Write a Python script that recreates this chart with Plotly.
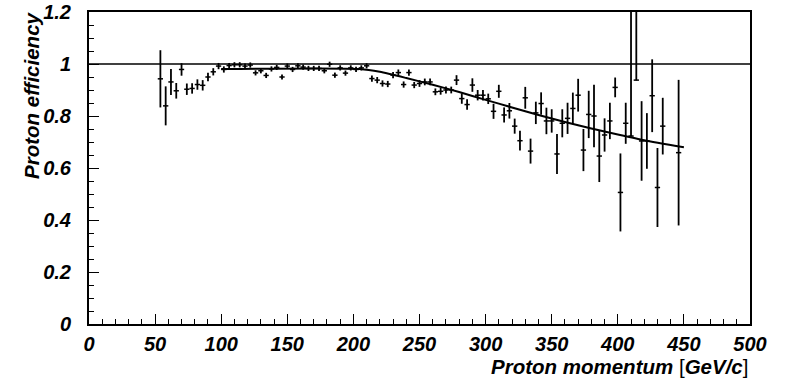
import plotly.graph_objects as go

# Data
momentum = [54, 58, 62, 66, 70, 74, 78, 82, 86, 90, 94, 98, 102, 106, 110, 114, 118, 122, 126, 130,
            134, 138, 142, 146, 150, 154, 158, 162, 166, 170, 174, 178, 182, 186, 190, 194, 198, 202, 206, 210,
            214, 218, 222, 226, 230, 234, 238, 242, 246, 250, 254, 258, 262, 266, 270, 274, 278, 282, 286, 290,
            294, 298, 302, 306, 310, 314, 318, 322, 326, 330, 334, 338, 342, 346, 350, 354, 358, 362, 366, 370,
            374, 378, 382, 386, 390, 394, 398, 402, 406, 410, 414, 418, 422, 426, 430, 434, 446]
efficiency = [0.943, 0.839, 0.931, 0.897, 0.979, 0.903, 0.906, 0.921, 0.918, 0.950, 0.970, 0.992, 0.979, 0.994, 0.997, 0.997, 0.992, 0.996, 0.966, 0.974,
              0.956, 0.981, 0.987, 0.950, 0.992, 0.979, 0.993, 0.988, 0.983, 0.983, 0.983, 0.974, 0.999, 0.957, 0.985, 0.965, 0.985, 0.979, 0.985, 0.993,
              0.944, 0.938, 0.925, 0.923, 0.957, 0.967, 0.921, 0.967, 0.919, 0.925, 0.931, 0.931, 0.893, 0.895, 0.900, 0.900, 0.938, 0.867, 0.844, 0.919,
              0.880, 0.880, 0.866, 0.818, 0.895, 0.804, 0.820, 0.761, 0.705, 0.870, 0.665, 0.812, 0.848, 0.781, 0.781, 0.654, 0.772, 0.791, 0.829, 0.880,
              0.669, 0.806, 0.800, 0.646, 0.727, 0.781, 0.910, 0.506, 0.772, 0.723, 0.938, 0.704, 0.704, 0.878, 0.525, 0.761, 0.659]
err_up = [0.110, 0.075, 0.050, 0.030, 0.024, 0.022, 0.020, 0.020, 0.020, 0.016, 0.014, 0.012, 0.012, 0.010, 0.010, 0.010, 0.010, 0.010, 0.010, 0.010,
          0.010, 0.010, 0.010, 0.010, 0.010, 0.010, 0.010, 0.010, 0.010, 0.010, 0.010, 0.010, 0.010, 0.010, 0.010, 0.010, 0.010, 0.010, 0.010, 0.010,
          0.012, 0.012, 0.012, 0.012, 0.012, 0.012, 0.012, 0.012, 0.012, 0.013, 0.013, 0.013, 0.013, 0.013, 0.013, 0.013, 0.019, 0.020, 0.020, 0.026,
          0.020, 0.020, 0.020, 0.029, 0.025, 0.029, 0.030, 0.029, 0.038, 0.042, 0.048, 0.043, 0.043, 0.051, 0.045, 0.077, 0.054, 0.060, 0.061, 0.063,
          0.081, 0.091, 0.120, 0.100, 0.064, 0.070, 0.038, 0.150, 0.079, 1.000, 1.000, 0.153, 0.107, 0.140, 0.152, 0.109, 0.280]
err_down = [0.110, 0.075, 0.050, 0.030, 0.024, 0.022, 0.020, 0.020, 0.020, 0.016, 0.014, 0.012, 0.012, 0.010, 0.010, 0.010, 0.010, 0.010, 0.010, 0.010,
            0.010, 0.010, 0.010, 0.010, 0.010, 0.010, 0.010, 0.010, 0.010, 0.010, 0.010, 0.010, 0.010, 0.010, 0.010, 0.010, 0.010, 0.010, 0.010, 0.010,
            0.012, 0.012, 0.012, 0.012, 0.012, 0.012, 0.012, 0.012, 0.012, 0.013, 0.013, 0.013, 0.013, 0.013, 0.013, 0.013, 0.019, 0.020, 0.020, 0.026,
            0.020, 0.020, 0.020, 0.029, 0.025, 0.029, 0.030, 0.029, 0.038, 0.042, 0.048, 0.043, 0.043, 0.051, 0.045, 0.077, 0.054, 0.060, 0.061, 0.063,
            0.081, 0.091, 0.120, 0.100, 0.064, 0.070, 0.038, 0.150, 0.079, 0.000, 0.000, 0.153, 0.107, 0.140, 0.152, 0.109, 0.280]
bin_half_width = [2.0] * len(momentum)

fit_p = [100, 205, 220, 240, 260, 280, 300, 320, 340, 360, 380, 400, 420, 450]
fit_eff = [0.981, 0.981, 0.970, 0.946, 0.920, 0.892, 0.862, 0.833, 0.804, 0.777, 0.752, 0.729, 0.707, 0.680]

x_ticks = [0, 50, 100, 150, 200, 250, 300, 350, 400, 450, 500]
y_ticks = [0, 0.2, 0.4, 0.6, 0.8, 1.0, 1.2]
y_tick_labels = ["0", "0.2", "0.4", "0.6", "0.8", "1", "1.2"]

FONT = "Liberation Sans"

fig = go.Figure()

fig.add_trace(go.Scatter(
    x=momentum, y=efficiency, mode="markers",
    marker=dict(size=1, color="black"),
    error_y=dict(type="data", symmetric=False, array=err_up, arrayminus=err_down,
                 thickness=1.8, width=0, color="black"),
    error_x=dict(type="data", array=bin_half_width, thickness=1.5, width=0, color="black"),
    showlegend=False, hoverinfo="skip",
))

fig.add_trace(go.Scatter(
    x=fit_p, y=fit_eff, mode="lines",
    line=dict(color="black", width=2, shape="spline", smoothing=0.6),
    showlegend=False, hoverinfo="skip",
))

fig.add_shape(type="line", xref="x", yref="y", x0=0, x1=500, y0=1, y1=1,
              line=dict(color="black", width=1.6))

tickfont = dict(family=FONT, size=20, color="black", weight="bold", style="italic")

fig.update_xaxes(
    range=[0, 500], tickvals=x_ticks, ticktext=[str(v) for v in x_ticks],
    ticks="inside", ticklen=10, tickwidth=1.3, tickcolor="black",
    minor=dict(dtick=10, ticks="inside", ticklen=5, tickwidth=1.3, tickcolor="black"),
    showline=True, linecolor="black", linewidth=2, mirror=True,
    showgrid=False, zeroline=False, tickfont=tickfont, ticklabelstandoff=1,
    automargin=False,
)
fig.update_yaxes(
    range=[0, 1.2], tickvals=y_ticks, ticktext=y_tick_labels,
    ticks="inside", ticklen=10, tickwidth=1.3, tickcolor="black",
    minor=dict(dtick=0.05, ticks="inside", ticklen=5, tickwidth=1.3, tickcolor="black"),
    showline=True, linecolor="black", linewidth=2, mirror=True,
    showgrid=False, zeroline=False, tickfont=tickfont, ticklabelstandoff=12,
    automargin=False,
)

titlefont = dict(family=FONT, size=20.5, color="black", weight="bold", style="italic")

fig.add_annotation(
    text="Proton momentum <span style='font-weight:normal;font-style:normal'>[</span>GeV/c<span style='font-weight:normal;font-style:normal'>]</span>",
    xref="paper", yref="paper", x=1, y=0, xanchor="right", yanchor="middle",
    yshift=-42, showarrow=False, font=titlefont,
)
fig.add_annotation(
    text="Proton efficiency", textangle=-90,
    xref="paper", yref="paper", x=0, y=1, xanchor="center", yanchor="top",
    xshift=-58, yshift=3, showarrow=False, font=titlefont,
)

fig.update_layout(
    width=791, height=381,
    margin=dict(l=89, r=41, t=12, b=57),
    paper_bgcolor="white", plot_bgcolor="white",
    font=dict(family=FONT, color="black"),
)

fig.write_html("out.html")
